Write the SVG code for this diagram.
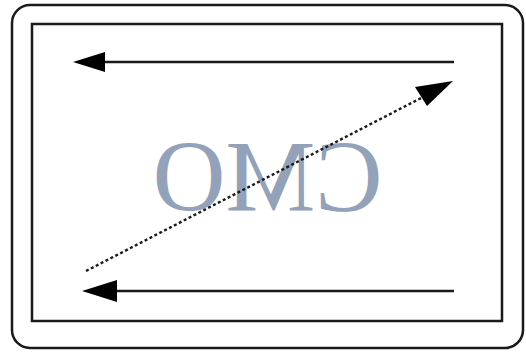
<svg xmlns="http://www.w3.org/2000/svg" width="526" height="353" viewBox="0 0 526 353">
<style>
.frame{fill:none;stroke:#1a1a1a;stroke-width:2.5}
.arr{stroke:#1a1a1a;stroke-width:2.3;fill:none}
.dot{stroke:#1a1a1a;stroke-width:2.4;fill:none;stroke-dasharray:3 2.5}
.head{fill:#000}
.lbl{font-family:"Liberation Serif","Times New Roman",serif;font-size:101px;fill:#93a2b9}
</style>
<rect width="526" height="353" fill="#fff"/>
<g id="card">
<rect class="frame" x="12" y="5" width="511" height="343" rx="18" ry="18"/>
<rect class="frame" x="32" y="24" width="470" height="297"/>
</g>
<g id="label">
<text class="lbl" transform="scale(-1,1)" x="-267.5" y="211" text-anchor="middle">CMO</text>
</g>
<g id="connectors">
<line class="arr" x1="454" y1="62" x2="100" y2="62"/>
<polygon class="head" points="73,62 105,52 105,72"/>
<line class="arr" x1="454" y1="291" x2="110" y2="291"/>
<polygon class="head" points="82,291 117,280 117,302"/>
<line class="dot" x1="86" y1="271" x2="425" y2="96"/>
<polygon class="head" points="453,81 415,87 427,106"/>
</g>
</svg>
